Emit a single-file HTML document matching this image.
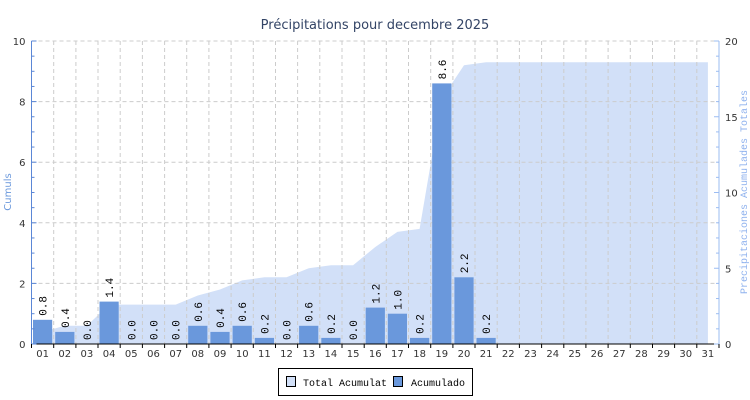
<!DOCTYPE html>
<html><head><meta charset="utf-8"><style>
html,body{margin:0;padding:0;background:#fff;width:750px;height:400px;overflow:hidden}
</style></head><body>
<svg id="c" width="750" height="400" xmlns="http://www.w3.org/2000/svg" font-family="DejaVu Sans, Liberation Sans, sans-serif"></svg>
<script>
const s=document.getElementById('c');
const L=31.5,R=719,T=41,B=344,W=(R-L)/31;
const M='Liberation Mono, DejaVu Sans Mono, monospace';
const v=[0.8,0.4,0,1.4,0,0,0,0.6,0.4,0.6,0.2,0,0.6,0.2,0,1.2,1.0,0.2,8.6,2.2,0.2,0,0,0,0,0,0,0,0,0,0];
let h='';
h+=`<text x="375" y="29" text-anchor="middle" font-size="13" fill="#334466">Précipitations pour decembre 2025</text>`;
let cum=0,pts=[];
v.forEach((x,i)=>{cum+=x;pts.push([L+W*(i+0.5),B-cum*(B-T)/20]);});
let d=`M${pts[0][0]},${B} `+pts.map(p=>`L${p[0].toFixed(1)},${p[1].toFixed(1)}`).join(' ')+` L${pts[30][0]},${B} Z`;
h+=`<path d="${d}" fill="#d2e0f8"/>`;
for(let k=1;k<=5;k++){const y=B-k*(B-T)/5;h+=`<line x1="${L}" x2="${R}" y1="${y}" y2="${y}" stroke="#cccccc" stroke-dasharray="4,3"/>`;}
for(let i=1;i<31;i++){const x=(L+W*i).toFixed(1);h+=`<line x1="${x}" x2="${x}" y1="${T}" y2="${B}" stroke="#cccccc" stroke-dasharray="4,3"/>`;}
v.forEach((x,i)=>{
 if(i>20)return;
 const x0=L+W*i+1.5,bh=x*(B-T)/10;
 if(bh>0)h+=`<rect x="${x0.toFixed(1)}" y="${(B-bh).toFixed(1)}" width="${(W-3).toFixed(1)}" height="${bh.toFixed(1)}" fill="#6a98dc"/>`;
 const cx=L+W*(i+0.5)+4,ty=B-bh-4;
 h+=`<text transform="translate(${cx.toFixed(1)},${ty.toFixed(1)}) rotate(-90)" font-size="11" font-family="${M}" fill="#000">${x.toFixed(1)}</text>`;
});
h+=`<line x1="${L}" x2="${L}" y1="${T}" y2="${B}" stroke="#5b87d6"/>`;
h+=`<line x1="${R}" x2="${R}" y1="${T}" y2="${B}" stroke="#9bbcf2"/>`;
h+=`<line x1="${L}" x2="${R}" y1="${B}" y2="${B}" stroke="#000"/>`;
for(let k=0;k<=20;k++){const y=B-k*(B-T)/20;h+=`<line x1="${L}" x2="${L+(k%4==0?5:3)}" y1="${y}" y2="${y}" stroke="#5b87d6"/>`;}
for(let k=0;k<=5;k++){const y=B-k*(B-T)/5;h+=`<text x="${L-6}" y="${y+4}" text-anchor="end" font-size="10" fill="#333">${k*2}</text>`;}
for(let k=0;k<=20;k++){const y=B-k*(B-T)/20;h+=`<line x1="${R}" x2="${R-(k%5==0?5:3)}" y1="${y}" y2="${y}" stroke="#9bbcf2"/>`;}
for(let k=0;k<=4;k++){const y=B-k*(B-T)/4;h+=`<text x="${R+6}" y="${y+4}" font-size="10" fill="#333">${k*5}</text>`;}
for(let i=0;i<=31;i++){const x=(L+W*i).toFixed(1);h+=`<line x1="${x}" x2="${x}" y1="${B}" y2="${B+4}" stroke="#000"/>`;}
for(let i=0;i<31;i++){const x=L+W*(i+0.5);h+=`<text x="${x.toFixed(1)}" y="${B+13}" text-anchor="middle" font-size="10" fill="#333">${String(i+1).padStart(2,'0')}</text>`;}
h+=`<text transform="translate(11,192) rotate(-90)" text-anchor="middle" font-size="10" fill="#6a98dc">Cumuls</text>`;
h+=`<text transform="translate(747,192) rotate(-90)" text-anchor="middle" font-size="10" font-family="${M}" fill="#8fb2ee">Precipitaciones Acumulades Totales</text>`;
h+=`<rect x="278.5" y="368.5" width="194" height="27" fill="#fff" stroke="#000"/>`;
h+=`<rect x="286.5" y="376.5" width="9" height="10" fill="#d2e0f8" stroke="#000"/>`;
h+=`<text x="303" y="386" font-size="10" font-family="${M}" fill="#000">Total Acumulat</text>`;
h+=`<rect x="393.5" y="376.5" width="9" height="10" fill="#6a98dc" stroke="#000"/>`;
h+=`<text x="411" y="386" font-size="10" font-family="${M}" fill="#000">Acumulado</text>`;
s.innerHTML=h;
</script>
</body></html>
